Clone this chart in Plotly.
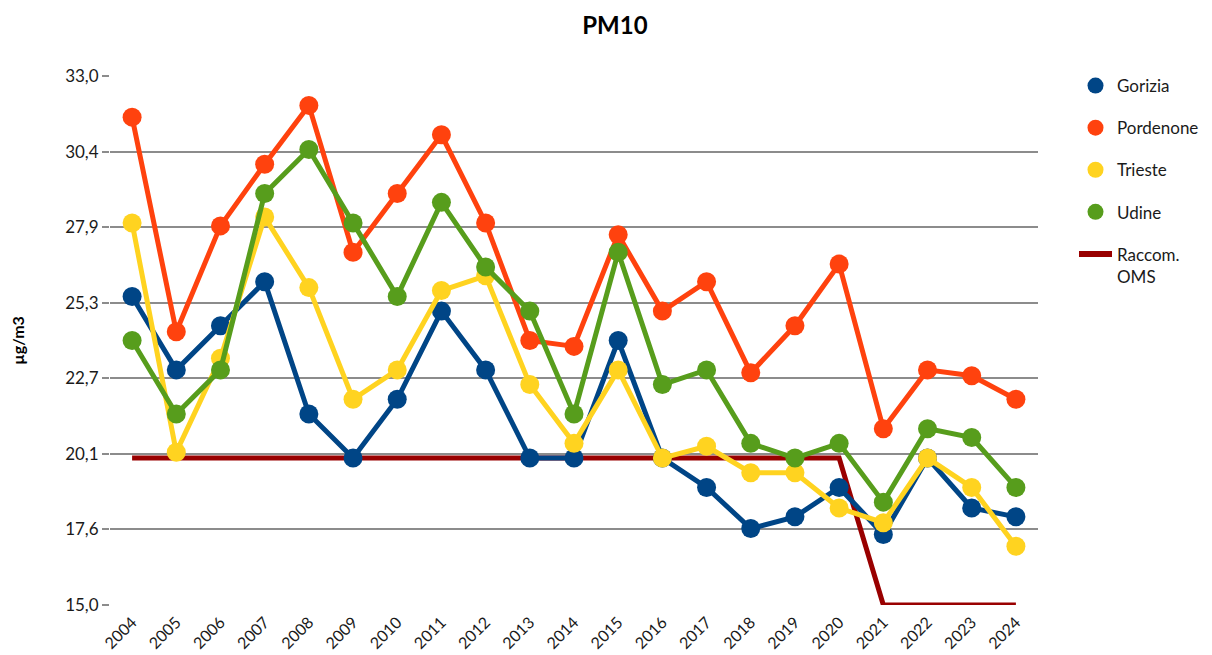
import plotly.graph_objects as go

years = [str(y) for y in range(2004, 2025)]

gorizia = [25.5, 23.0, 24.5, 26.0, 21.5, 20.0, 22.0, 25.0, 23.0, 20.0, 20.0,
           24.0, 20.0, 19.0, 17.6, 18.0, 19.0, 17.4, 20.0, 18.3, 18.0]
pordenone = [31.6, 24.3, 27.9, 30.0, 32.0, 27.0, 29.0, 31.0, 28.0, 24.0, 23.8,
             27.6, 25.0, 26.0, 22.9, 24.5, 26.6, 21.0, 23.0, 22.8, 22.0]
trieste = [28.0, 20.2, 23.4, 28.2, 25.8, 22.0, 23.0, 25.7, 26.2, 22.5, 20.5,
           23.0, 20.0, 20.4, 19.5, 19.5, 18.3, 17.8, 20.0, 19.0, 17.0]
udine = [24.0, 21.5, 23.0, 29.0, 30.5, 28.0, 25.5, 28.7, 26.5, 25.0, 21.5,
         27.0, 22.5, 23.0, 20.5, 20.0, 20.5, 18.5, 21.0, 20.7, 19.0]
oms = [20.0] * 17 + [15.0] * 4

y_ticks = [15.0, 15 + 18 / 7, 15 + 36 / 7, 15 + 54 / 7, 15 + 72 / 7, 15 + 90 / 7, 15 + 108 / 7, 33.0]
y_labels = ["15,0", "17,6", "20,1", "22,7", "25,3", "27,9", "30,4", "33,0"]

series = [
    ("Gorizia", gorizia, "#004586"),
    ("Pordenone", pordenone, "#FF420E"),
    ("Trieste", trieste, "#FFD320"),
    ("Udine", udine, "#579D1C"),
]
oms_color = "#990000"
FONT = "Lato"
TXT = "#1a1a1a"
GRID = "#8c8c8c"

fig = go.Figure()

# OMS line (drawn beneath)
fig.add_trace(go.Scatter(x=years, y=oms, mode="lines", name="Raccom.<br>OMS",
                         line=dict(color=oms_color, width=5), showlegend=False,
                         hoverinfo="skip"))

for name, vals, col in series:
    fig.add_trace(go.Scatter(x=years, y=vals, mode="lines+markers", name=name,
                             line=dict(color=col, width=5),
                             marker=dict(color=col, size=19), showlegend=False))

# legend entries
for i, (name, vals, col) in enumerate(series):
    fig.add_trace(go.Scatter(x=[None], y=[None], mode="markers", name=name,
                             marker=dict(color=col, size=19), legendgroup=name,
                             legendrank=i + 1))
fig.add_trace(go.Scatter(x=[None], y=[None], mode="lines", name="Raccom.<br>OMS",
                         line=dict(color=oms_color, width=6), legendgroup="oms",
                         legendrank=10))

fig.update_layout(
    width=1212, height=655,
    paper_bgcolor="white", plot_bgcolor="white",
    margin=dict(l=102, r=182, t=68, b=58),
    title=dict(text="<b>PM10</b>", x=0.5008, xanchor="center", y=0.9725, yanchor="middle",
               font=dict(family=FONT, size=24, color="#000000")),
    font=dict(family=FONT, size=17, color=TXT),
    legend=dict(x=1.0388, xanchor="left", y=1.0151, yanchor="top",
                font=dict(family=FONT, size=17, color=TXT), valign="top",
                tracegroupgap=17, itemwidth=33),
    showlegend=True,
)
fig.update_xaxes(type="category", range=[-0.5, 20.5], autorange=False,
                 tickangle=-45, showgrid=False, zeroline=False, automargin=False,
                 showline=False, ticks="", ticklabelstandoff=4,
                 tickfont=dict(size=16, color=TXT))
fig.update_yaxes(range=[15, 33], autorange=False, tickvals=y_ticks, ticktext=y_labels,
                 showgrid=True, gridcolor=GRID, gridwidth=1.5, automargin=False,
                 ticks="outside", ticklen=7, tickcolor=GRID, tickwidth=1.5,
                 zeroline=False, showline=False,
                 tickfont=dict(size=17, color=TXT),
                 title=dict(text="<b>µg/m3</b>", standoff=39,
                            font=dict(family=FONT, size=16, color="#000000")))

fig.write_html("out.html")
